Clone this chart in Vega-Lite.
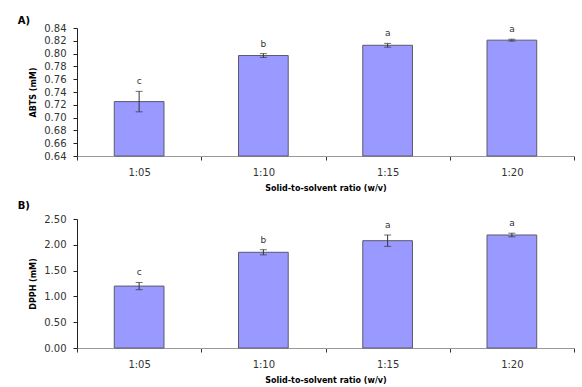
{
  "$schema": "https://vega.github.io/schema/vega-lite/v6.json",
  "padding": {"left": 17, "top": 16, "right": 5, "bottom": 0},
  "spacing": 9,
  "background": "white",
  "config": {
    "view": {"stroke": null},
    "font": "DejaVu Sans",
    "axis": {
      "labelFont": "DejaVu Sans",
      "labelFontSize": 10,
      "labelColor": "#333",
      "labelOverlap": false,
      "titleFont": "DejaVu Sans",
      "titleFontWeight": "bold",
      "titleFontSize": 8,
      "titleColor": "#000",
      "grid": false
    },
    "title": {"font": "DejaVu Sans", "fontSize": 10, "fontWeight": "bold", "anchor": "start", "frame": "bounds", "color": "#000"}
  },
  "datasets": {
    "abts": [
      {"ratio": "1:05", "value": 0.725, "err": 0.016, "hi": 0.741, "group": "c"},
      {"ratio": "1:10", "value": 0.797, "err": 0.003, "hi": 0.800, "group": "b"},
      {"ratio": "1:15", "value": 0.813, "err": 0.003, "hi": 0.816, "group": "a"},
      {"ratio": "1:20", "value": 0.821, "err": 0.0015, "hi": 0.8225, "group": "a"}
    ],
    "dpph": [
      {"ratio": "1:05", "value": 1.2, "err": 0.07, "hi": 1.27, "group": "c"},
      {"ratio": "1:10", "value": 1.855, "err": 0.05, "hi": 1.905, "group": "b"},
      {"ratio": "1:15", "value": 2.08, "err": 0.11, "hi": 2.19, "group": "a"},
      {"ratio": "1:20", "value": 2.19, "err": 0.035, "hi": 2.225, "group": "a"}
    ]
  },
  "vconcat": [
    {
      "width": 497,
      "height": 128,
      "title": {"text": "A)", "dx": -12, "offset": -3},
      "data": {"name": "abts"},
      "encoding": {
        "x": {
          "field": "ratio", "type": "nominal", "sort": null,
          "scale": {"paddingInner": 0, "paddingOuter": 0},
          "title": "Solid-to-solvent ratio (w/v)",
          "axis": {"labelAngle": 0, "tickBand": "extent", "domainColor": "#999", "tickColor": "#333", "tickSize": 4, "labelPadding": 7, "titlePadding": 7}
        },
        "y": {
          "field": "value", "type": "quantitative",
          "scale": {"domain": [0.64, 0.84], "zero": false, "nice": false},
          "title": "ABTS (mM)",
          "axis": {"values": [0.64, 0.66, 0.68, 0.70, 0.72, 0.74, 0.76, 0.78, 0.80, 0.82, 0.84], "format": ".2f", "domainColor": "#222", "tickColor": "#222", "tickSize": 4, "labelPadding": 7, "titlePadding": 6}
        }
      },
      "layer": [
        {
          "mark": {"type": "bar", "fill": "#9999ff", "stroke": "#5a5a6a", "strokeWidth": 1, "width": {"band": 0.4}},
          "encoding": {"y2": {"datum": 0.64}}
        },
        {
          "mark": {"type": "errorbar", "ticks": {"size": 7, "color": "#333"}, "rule": {"color": "#333"}},
          "encoding": {"yError": {"field": "err"}}
        },
        {
          "mark": {"type": "text", "baseline": "bottom", "dy": -5, "fontSize": 9, "color": "#333"},
          "encoding": {
            "y": {"field": "hi", "type": "quantitative"},
            "text": {"field": "group"}
          }
        }
      ]
    },
    {
      "width": 497,
      "height": 129,
      "title": {"text": "B)", "dx": -12, "offset": 3},
      "data": {"name": "dpph"},
      "encoding": {
        "x": {
          "field": "ratio", "type": "nominal", "sort": null,
          "scale": {"paddingInner": 0, "paddingOuter": 0},
          "title": "Solid-to-solvent ratio (w/v)",
          "axis": {"labelAngle": 0, "tickBand": "extent", "domainColor": "#999", "tickColor": "#333", "tickSize": 4, "labelPadding": 7, "titlePadding": 7}
        },
        "y": {
          "field": "value", "type": "quantitative",
          "scale": {"domain": [0, 2.5], "nice": false},
          "title": "DPPH (mM)",
          "axis": {"values": [0, 0.5, 1, 1.5, 2, 2.5], "format": ".2f", "domainColor": "#222", "tickColor": "#222", "tickSize": 4, "labelPadding": 7, "titlePadding": 6}
        }
      },
      "layer": [
        {
          "mark": {"type": "bar", "fill": "#9999ff", "stroke": "#5a5a6a", "strokeWidth": 1, "width": {"band": 0.4}}
        },
        {
          "mark": {"type": "errorbar", "ticks": {"size": 7, "color": "#333"}, "rule": {"color": "#333"}},
          "encoding": {"yError": {"field": "err"}}
        },
        {
          "mark": {"type": "text", "baseline": "bottom", "dy": -5, "fontSize": 9, "color": "#333"},
          "encoding": {
            "y": {"field": "hi", "type": "quantitative"},
            "text": {"field": "group"}
          }
        }
      ]
    }
  ]
}
